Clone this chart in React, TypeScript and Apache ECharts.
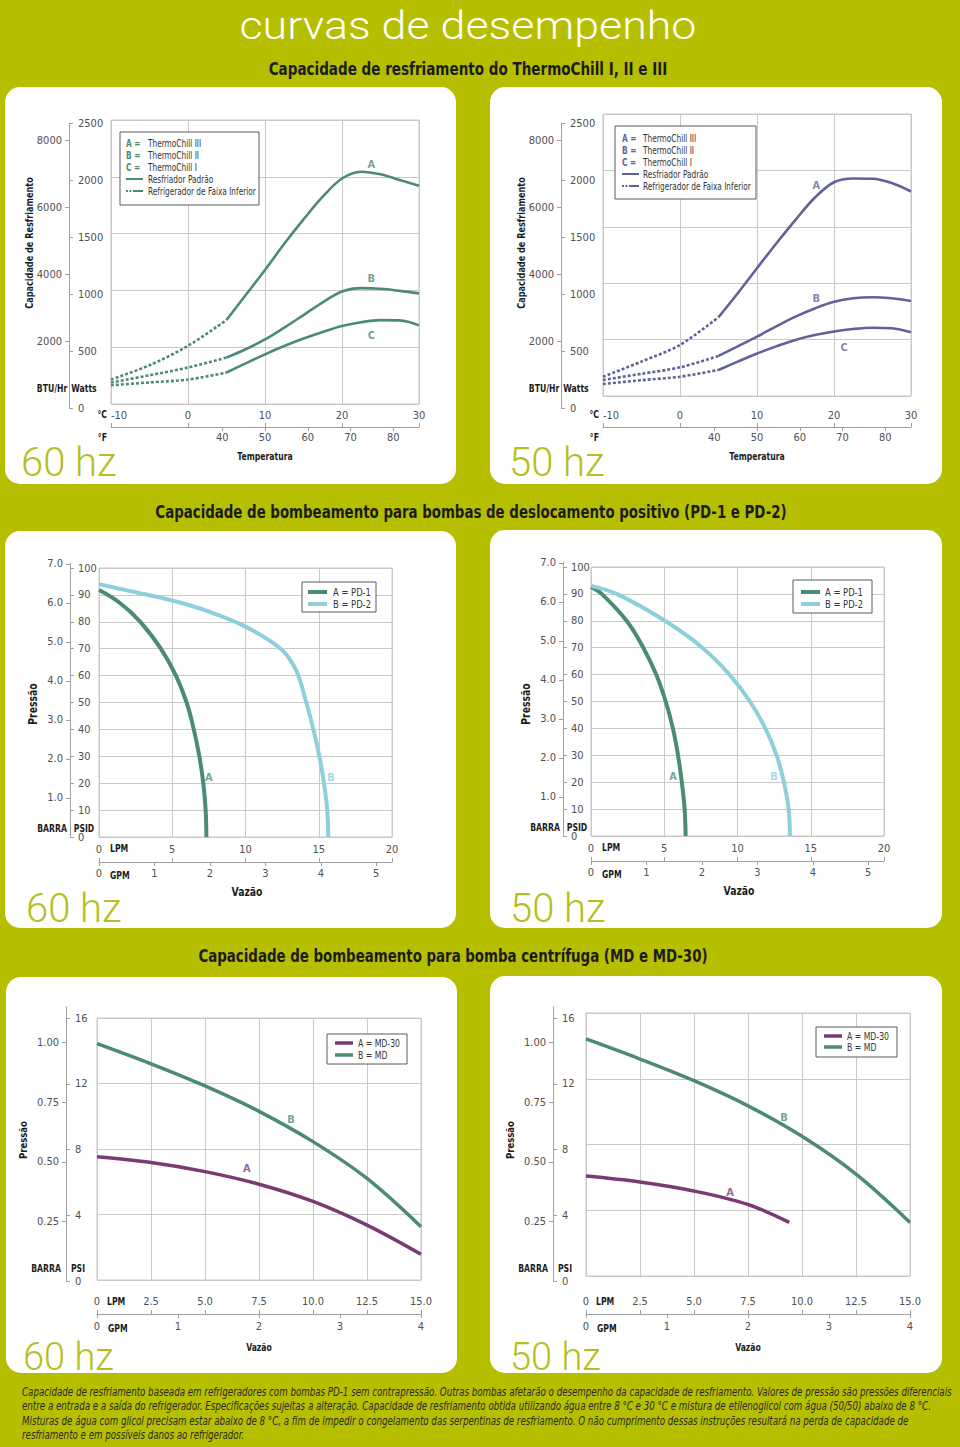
import React, { useEffect, useRef } from "react";
import * as echarts from "echarts";

// ================= DATA =================
// tick labels
const tempTicksC = [-10, 0, 10, 20, 30];
const tempTicksF = [40, 50, 60, 70, 80];
const wattTicks = [0, 500, 1000, 1500, 2000, 2500];
const btuTicks = [2000, 4000, 6000, 8000];
const psidTicks = [0, 10, 20, 30, 40, 50, 60, 70, 80, 90, 100];
const barTicksPD = [1, 2, 3, 4, 5, 6, 7];
const lpmTicksPD = [0, 5, 10, 15, 20];
const gpmTicksPD = [0, 1, 2, 3, 4, 5];
const psiTicksMD = [0, 4, 8, 12, 16];
const barTicksMD = [0.25, 0.5, 0.75, 1.0];
const lpmTicksMD = [0, 2.5, 5, 7.5, 10, 12.5, 15];
const gpmTicksMD = [0, 1, 2, 3, 4];

// Cooling capacity (W) vs temperature (°C) — 60 Hz
const cool60A_low = [[-10, 215], [-5, 341], [0, 512], [5, 739]];
const cool60A = [[5, 739], [7.5, 960], [10, 1180], [12.5, 1410], [15, 1625], [17.5, 1825], [20, 1985], [22.5, 2045], [25, 2022], [27.5, 1972], [30, 1921]];
const cool60B_low = [[-10, 189], [-5, 253], [0, 321], [5, 409]];
const cool60B = [[5, 409], [7.5, 482], [10, 568], [12.5, 672], [15, 783], [17.5, 895], [20, 990], [22.5, 1020], [25, 1014], [27.5, 996], [30, 974]];
const cool60C_low = [[-10, 165], [-5, 190], [0, 215], [5, 277]];
const cool60C = [[5, 277], [7.5, 358], [10, 437], [12.5, 510], [15, 576], [17.5, 634], [20, 686], [22.5, 720], [25, 738], [27.5, 736], [30, 692]];
const cool60Labels: [string, number, number][] = [["A", 23.8, 2106], ["B", 23.8, 1109], ["C", 23.8, 606]];

// Cooling capacity (W) vs temperature (°C) — 50 Hz
const cool50A_low = [[-10, 171], [-5, 305], [0, 453], [5, 698]];
const cool50A = [[5, 698], [7.5, 911], [10, 1133], [12.5, 1352], [15, 1562], [17.5, 1758], [20, 1895], [22.5, 1928], [25, 1926], [27.5, 1888], [30, 1813]];
const cool50B_low = [[-10, 142], [-5, 197], [0, 254], [5, 355]];
const cool50B = [[5, 355], [7.5, 440], [10, 526], [12.5, 618], [15, 704], [17.5, 776], [20, 835], [22.5, 867], [25, 876], [27.5, 867], [30, 843]];
const cool50C_low = [[-10, 106], [-5, 140], [0, 171], [5, 231]];
const cool50C = [[5, 231], [7.5, 305], [10, 377], [12.5, 440], [15, 497], [17.5, 540], [20, 572], [22.5, 594], [25, 605], [27.5, 600], [30, 565]];
const cool50Labels: [string, number, number][] = [["A", 17.7, 1864], ["B", 17.7, 861], ["C", 21.3, 426]];

// PD pumps: pressure (PSID) vs flow (LPM)
const pd60A = [[0, 91.8], [1.43, 87], [2.82, 80], [4.22, 70], [5.25, 60], [5.98, 50], [6.47, 40], [6.85, 30], [7.12, 20], [7.28, 10], [7.33, 0]];
const pd60B = [[0, 94], [2.3, 91.2], [5, 87.9], [7.5, 83.8], [10, 78.2], [12.4, 70], [13.45, 62], [14.15, 50], [14.63, 40], [15.04, 30], [15.36, 20], [15.58, 10], [15.65, 0]];
const pd60Labels: [string, number, number][] = [["A", 7.5, 22.3], ["B", 15.84, 22.3]];
const pd50A = [[0, 92.7], [0.73, 90], [2.43, 80], [3.57, 70], [4.45, 60], [5.1, 50], [5.59, 40], [5.94, 30], [6.2, 20], [6.39, 10], [6.46, 0]];
const pd50B = [[0, 93], [1.75, 90], [5.05, 80], [7.6, 70], [9.45, 60], [10.85, 50], [11.9, 40], [12.67, 30], [13.17, 20], [13.49, 10], [13.58, 0]];
const pd50Labels: [string, number, number][] = [["A", 5.6, 22.3], ["B", 12.49, 22.3]];

// MD pumps: pressure (PSI) vs flow (LPM)
const md60A = [[0, 7.52], [2.5, 7.17], [5, 6.62], [7.5, 5.85], [10, 4.8], [12.5, 3.35], [15, 1.57]];
const md60B = [[0, 14.43], [2.5, 13.2], [5, 11.85], [7.5, 10.3], [10, 8.45], [12.5, 6.2], [15, 3.25]];
const md60Labels: [string, number, number][] = [["A", 6.94, 6.78], ["B", 8.98, 9.83]];
const md50A = [[0, 6.08], [2.5, 5.72], [5, 5.17], [7.5, 4.35], [9.41, 3.26]];
const md50B = [[0, 14.42], [2.5, 13.2], [5, 11.88], [7.5, 10.35], [10, 8.5], [12.5, 6.2], [15, 3.26]];
const md50Labels: [string, number, number][] = [["A", 6.67, 5.11], ["B", 9.17, 9.67]];

// texts
const pageTitle = "curvas de desempenho";
const section1Title = "Capacidade de resfriamento do ThermoChill I, II e III";
const section2Title = "Capacidade de bombeamento para bombas de deslocamento positivo (PD-1 e PD-2)";
const section3Title = "Capacidade de bombeamento para bomba centrífuga (MD e MD-30)";
const coolLegendKeys = ["A =", "B =", "C ="];
const coolLegendModels = ["ThermoChill III", "ThermoChill II", "ThermoChill I"];
const coolLegendStyles = ["Resfriador Padrão", "Refrigerador de Faixa Inferior"];
const pdLegend = ["A = PD-1", "B = PD-2"];
const mdLegend = ["A = MD-30", "B = MD"];
const footerLines = [
  "Capacidade de resfriamento baseada em refrigeradores com bombas PD-1 sem contrapressão. Outras bombas afetarão o desempenho da capacidade de resfriamento. Valores de pressão são pressões diferenciais",
  "entre a entrada e a saída do refrigerador. Especificações sujeitas a alteração. Capacidade de resfriamento obtida utilizando água entre 8 °C e 30 °C e mistura de etilenoglicol com água (50/50) abaixo de 8 °C.",
  "Misturas de água com glicol precisam estar abaixo de 8 °C, a fim de impedir o congelamento das serpentinas de resfriamento. O não cumprimento dessas instruções resultará na perda de capacidade de",
  "resfriamento e em possíveis danos ao refrigerador.",
];

// ================= STYLE =================
const BG = "#b6be00";
const GRID_C = "#c9c9c9";
const AXIS_C = "#a0a0a0";
const TICK_TEXT = "#505050";
const DARK = "#1c1c1c";
const GREEN = "#4c8b73";
const PURPLE_BLUE = "#61629b";
const LIGHT_BLUE = "#8dd0dc";
const MAGENTA = "#7c3a73";
const HZ_C = "#b5be1e";
const COND = "'Liberation Sans Narrow','DejaVu Sans Condensed','Roboto Condensed','Liberation Sans',Arial,sans-serif";
const LIGHTF = "Roboto,'Open Sans','Liberation Sans',Arial,sans-serif";

const LABEL = { color: TICK_TEXT, fontSize: 11, fontFamily: COND };
const plain = (v: number) => String(v);

function measure(text: string, font: string): number {
  const c = document.createElement("canvas").getContext("2d");
  if (!c) return 1;
  c.font = font;
  return c.measureText(text).width || 1;
}

function buildOption() {
  const grid: any[] = [];
  const xAxis: any[] = [];
  const yAxis: any[] = [];
  const series: any[] = [];
  const graphic: any[] = [];

  const fontStr = (o: any) =>
    `${o.italic ? "italic" : "normal"} ${o.weight || "normal"} ${o.size || 11}px ${o.family || COND}`;
  const fit = (t: string, o: any, width: number) => width / measure(t, fontStr(o));

  const text = (t: string, x: number, y: number, o: any = {}) => {
    let scaleX = o.scaleX || 1;
    if (o.fitWidth) scaleX = fit(t, o, o.fitWidth);
    const style: any = {
      text: t,
      fill: o.color || DARK,
      fontSize: o.size || 11,
      fontWeight: o.weight || "normal",
      fontStyle: o.italic ? "italic" : "normal",
      fontFamily: o.family || COND,
      textAlign: o.align || "center",
      textVerticalAlign: o.valign || "middle",
      align: o.align || "center",
      verticalAlign: o.valign || "middle",
    };
    if (o.lineHeight) style.lineHeight = o.lineHeight;
    graphic.push({
      type: "text",
      x,
      y,
      z: 100,
      rotation: o.rotation || 0,
      scaleX,
      silent: true,
      style,
    });
  };
  const line = (x1: number, y1: number, x2: number, y2: number, color: string, width: number, dash?: number[]) => {
    graphic.push({
      type: "line",
      silent: true,
      z: 100,
      shape: { x1, y1, x2, y2 },
      style: { stroke: color, lineWidth: width, lineDash: dash || null },
    });
  };
  const rect = (x: number, y: number, w: number, h: number) => {
    graphic.push({
      type: "rect",
      silent: true,
      z: 99,
      shape: { x, y, width: w, height: h },
      style: { fill: "#ffffff", stroke: "#5a5a5a", lineWidth: 1 },
    });
  };
  const unit = (t: string, x: number, y: number, o: any = {}) =>
    text(t, x, y, { size: 10, weight: "bold", scaleX: 0.86, ...o });
  const hzText = (t: string, x: number, y: number, size = 40) =>
    text(t, x, y, { size, weight: 300, family: LIGHTF, color: HZ_C, align: "left", lineHeight: 28 });

  // ---- side axis pair (left label axis + right label axis on one vertical line)
  const sideAxes = (p: any) => {
    const gi = grid.push({ left: p.left, top: p.top, width: 1, height: p.height, show: false }) - 1;
    xAxis.push({ gridIndex: gi, type: "value", show: false, min: 0, max: 1 });
    yAxis.push({
      gridIndex: gi, type: "value", position: "left", min: 0, max: p.rightMax,
      axisLine: { show: true, onZero: false, lineStyle: { color: AXIS_C } },
      axisTick: { show: true, inside: true, length: 4, customValues: p.rightTicks, lineStyle: { color: AXIS_C } },
      axisLabel: { show: true, inside: true, margin: p.rightMargin || 8, customValues: p.rightTicks, formatter: p.rightFmt || plain, ...LABEL },
      splitLine: { show: false },
    });
    yAxis.push({
      gridIndex: gi, type: "value", position: "left", min: 0, max: p.leftMax,
      axisLine: { show: false, onZero: false },
      axisTick: { show: true, length: 4, customValues: p.leftTicks, lineStyle: { color: AXIS_C } },
      axisLabel: { show: true, margin: p.leftMargin || 7, customValues: p.leftTicks, formatter: p.leftFmt || plain, ...LABEL },
      splitLine: { show: false },
    });
  };

  // ---- plot grid with two bottom scales
  const plotGrid = (p: any) => {
    const gi = grid.push({
      left: p.left, top: p.top, width: p.width, height: p.height,
      show: true, borderColor: GRID_C, borderWidth: 1, backgroundColor: "rgba(0,0,0,0)",
    }) - 1;
    const xi = xAxis.push({
      gridIndex: gi, type: "value", position: "bottom", offset: p.offset,
      min: p.xMin, max: p.xMax, interval: p.xInterval,
      axisLine: { show: true, onZero: false, lineStyle: { color: AXIS_C } },
      axisTick: { show: true, inside: true, length: 4, lineStyle: { color: AXIS_C } },
      axisLabel: { show: true, inside: true, margin: p.m1, formatter: p.xFmt || plain, alignMinLabel: p.alignMin, ...LABEL },
      splitLine: { show: true, lineStyle: { color: GRID_C, width: 1 } },
    }) - 1;
    xAxis.push({
      gridIndex: gi, type: "value", position: "bottom", offset: p.offset,
      min: p.x2Min, max: p.x2Max,
      axisLine: { show: false, onZero: false },
      axisTick: { show: true, length: 4, customValues: p.x2Ticks, lineStyle: { color: AXIS_C } },
      axisLabel: { show: true, margin: p.m2, customValues: p.x2Ticks, formatter: plain, ...LABEL },
      splitLine: { show: false },
    });
    const yi = yAxis.push({
      gridIndex: gi, type: "value", min: p.yMin, max: p.yMax, interval: p.yInterval,
      axisLine: { show: false, onZero: false }, axisTick: { show: false }, axisLabel: { show: false },
      splitLine: { show: true, lineStyle: { color: GRID_C, width: 1 } },
    }) - 1;
    return { xi, yi };
  };

  const curve = (ax: any, data: number[][], color: string, width: number, dashed = false, smooth: any = 0.4) => {
    series.push({
      type: "line", xAxisIndex: ax.xi, yAxisIndex: ax.yi, data, smooth,
      symbol: "none", silent: true, z: 3,
      lineStyle: { color, width, type: dashed ? [3, 2] : "solid", cap: "butt" },
    });
  };
  const curveLabels = (ax: any, items: [string, number, number][], color: string) => {
    items.forEach(([n, x, y]) => {
      series.push({
        type: "scatter", xAxisIndex: ax.xi, yAxisIndex: ax.yi, symbolSize: 1, silent: true, z: 4,
        itemStyle: { color: "rgba(0,0,0,0)" },
        data: [{ value: [x, y], name: n }],
        label: { show: true, position: "inside", formatter: "{b}", color, fontSize: 11, fontWeight: "bold", fontFamily: COND },
      });
    });
  };

  // ================= PAGE TEXTS =================
  text(pageTitle, 468, 26, { size: 38, weight: 300, family: LIGHTF, color: "#ffffff", fitWidth: 457 });
  text(section1Title, 468, 69, { size: 18, weight: "bold", fitWidth: 399 });
  text(section2Title, 471, 512, { size: 18, weight: "bold", fitWidth: 631 });
  text(section3Title, 453, 956, { size: 18, weight: "bold", fitWidth: 509 });
  const footO = { size: 11.5, italic: true };
  const footScale = fit(footerLines[0], footO, 931);
  footerLines.forEach((l, i) =>
    text(l, 22, 1392 + i * 14.4, { ...footO, color: "#2a2a2a", align: "left", scaleX: footScale })
  );

  // ================= COOLING PANELS =================
  const cooling = (c: any) => {
    const ax = plotGrid({
      left: c.left, top: c.top, width: 308, height: c.height, offset: c.offset,
      xMin: -10, xMax: 30, xInterval: 10, m1: 6, alignMin: "left",
      x2Min: 14, x2Max: 86, x2Ticks: tempTicksF, m2: 5,
      yMin: 0, yMax: 2500, yInterval: 500,
    });
    sideAxes({
      left: c.axisX, top: 123, height: 285,
      rightMax: 2500, rightTicks: wattTicks, rightMargin: 9,
      leftMax: 2500 * 3.412, leftTicks: btuTicks, leftMargin: 7,
    });
    c.curves.forEach((cv: any) => {
      curve(ax, cv[0], c.color, 2.6, true, 0.3);
      curve(ax, cv[1], c.color, 2.6, false, 0.35);
    });
    curveLabels(ax, c.labels, c.color);
    // legend
    const L = c.legend;
    const lo = { size: 10.5 };
    const ls = fit(coolLegendStyles[1], lo, 108);
    rect(L.x, L.y, L.w, L.h);
    coolLegendKeys.forEach((k, i) => {
      text(k, L.keyX, L.rows[i], { size: 10.5, weight: "bold", color: c.color, align: "left", scaleX: ls });
      text(coolLegendModels[i], L.textX, L.rows[i], { ...lo, color: "#333", align: "left", scaleX: ls });
    });
    line(L.keyX, L.rows[3], L.keyX + 17, L.rows[3], c.color, 2);
    text(coolLegendStyles[0], L.textX, L.rows[3], { ...lo, color: "#333", align: "left", scaleX: ls });
    line(L.keyX, L.rows[4], L.keyX + 8, L.rows[4], c.color, 2, [2, 1.5]);
    line(L.keyX + 8, L.rows[4], L.keyX + 17, L.rows[4], c.color, 2);
    text(coolLegendStyles[1], L.textX, L.rows[4], { ...lo, color: "#333", align: "left", scaleX: ls });
    // unit labels
    unit("BTU/Hr", c.axisX - 17, 388);
    unit("Watts", c.axisX + 15, 388);
    unit("°C", c.left - 4, 414, { align: "right" });
    unit("°F", c.left - 4, 437, { align: "right" });
    unit("Temperatura", c.left + 154, 456);
    unit("Capacidade de Resfriamento", c.axisX - 40, 243, { size: 10.5, rotation: Math.PI / 2 });
    hzText(c.hz, c.hzX, 462);
  };

  cooling({
    left: 111, top: 120, height: 284, offset: 23, axisX: 69, color: GREEN, hz: "60 hz", hzX: 21,
    curves: [[cool60A_low, cool60A], [cool60B_low, cool60B], [cool60C_low, cool60C]],
    labels: cool60Labels,
    legend: { x: 120, y: 132, w: 139, h: 73, rows: [143, 155, 167, 179, 191], keyX: 126, textX: 148 },
  });
  cooling({
    left: 603, top: 114, height: 282, offset: 31, axisX: 561, color: PURPLE_BLUE, hz: "50 hz", hzX: 509,
    curves: [[cool50A_low, cool50A], [cool50B_low, cool50B], [cool50C_low, cool50C]],
    labels: cool50Labels,
    legend: { x: 615, y: 126, w: 141, h: 73, rows: [138, 150, 162, 174, 186], keyX: 622, textX: 643 },
  });

  // ================= PD PANELS =================
  const pd = (c: any) => {
    const ax = plotGrid({
      left: c.left, top: c.top, width: 293, height: 269, offset: 25,
      xMin: 0, xMax: 20, xInterval: 5, m1: 7,
      x2Min: 0, x2Max: 20 / 3.785, x2Ticks: gpmTicksPD, m2: 6,
      yMin: 0, yMax: 100, yInterval: 10,
    });
    const psiMax = 274 / 2.69;
    sideAxes({
      left: c.axisX, top: c.top + 269 - 274, height: 274,
      rightMax: psiMax, rightTicks: psidTicks, rightMargin: 8,
      leftMax: psiMax / 14.5038, leftTicks: barTicksPD, leftFmt: (v: number) => v.toFixed(1), leftMargin: 7,
    });
    curve(ax, c.a, GREEN, 4, false, 0.4);
    curve(ax, c.b, LIGHT_BLUE, 4, false, 0.35);
    curveLabels(ax, [c.labels[0]], GREEN);
    curveLabels(ax, [c.labels[1]], LIGHT_BLUE);
    const L = c.legend;
    const lo = { size: 11 };
    const ls = fit(pdLegend[1], lo, 38);
    rect(L.x, L.y, L.w, L.h);
    line(L.lx, L.rows[0], L.lx + 19, L.rows[0], GREEN, 4);
    line(L.lx, L.rows[1], L.lx + 19, L.rows[1], LIGHT_BLUE, 4);
    text(pdLegend[0], L.tx, L.rows[0], { ...lo, color: "#333", align: "left", scaleX: ls });
    text(pdLegend[1], L.tx, L.rows[1], { ...lo, color: "#333", align: "left", scaleX: ls });
    const bottom = c.top + 269;
    unit("BARRA", c.axisX - 18, bottom - 9);
    unit("PSID", c.axisX + 14, bottom - 9);
    unit("LPM", c.left + 11, bottom + 11, { align: "left" });
    unit("GPM", c.left + 11, bottom + 38, { align: "left" });
    unit("Vazão", c.left + 148, bottom + 55, { size: 12 });
    unit("Pressão", c.axisX - 37, 704, { size: 12, rotation: Math.PI / 2 });
    hzText(c.hz, c.hzX, 908);
  };
  pd({
    left: 99, top: 568, axisX: 70, a: pd60A, b: pd60B, labels: pd60Labels, hz: "60 hz", hzX: 26,
    legend: { x: 302, y: 582, w: 74, h: 30, rows: [592, 604], lx: 308, tx: 333 },
  });
  pd({
    left: 591, top: 567, axisX: 563, a: pd50A, b: pd50B, labels: pd50Labels, hz: "50 hz", hzX: 510,
    legend: { x: 793, y: 580, w: 79, h: 33, rows: [592, 604], lx: 801, tx: 825 },
  });

  // ================= MD PANELS =================
  const md = (c: any) => {
    const ax = plotGrid({
      left: c.left, top: c.top, width: 324, height: c.height, offset: c.offset,
      xMin: 0, xMax: 15, xInterval: 2.5, m1: 7, xFmt: (v: number) => (v === 0 ? "0" : v.toFixed(1)),
      x2Min: 0, x2Max: 4, x2Ticks: gpmTicksMD, m2: c.m2,
      yMin: 0, yMax: 16, yInterval: 4,
    });
    const pxPerPsi = 263 / 16;
    const psiMax = 274 / pxPerPsi;
    sideAxes({
      left: c.axisX, top: 1007, height: 274,
      rightMax: psiMax, rightTicks: psiTicksMD, rightMargin: 9,
      leftMax: psiMax / 14.5038, leftTicks: barTicksMD, leftFmt: (v: number) => v.toFixed(2), leftMargin: 7,
    });
    curve(ax, c.b, GREEN, 3.5, false, 0.35);
    curve(ax, c.a, MAGENTA, 3.5, false, 0.35);
    curveLabels(ax, [c.labels[0]], MAGENTA);
    curveLabels(ax, [c.labels[1]], GREEN);
    const L = c.legend;
    const lo = { size: 10.5 };
    const ls = fit(mdLegend[0], lo, 42);
    rect(L.x, L.y, L.w, L.h);
    line(L.lx, L.rows[0], L.lx + 18, L.rows[0], MAGENTA, 3.5);
    line(L.lx, L.rows[1], L.lx + 18, L.rows[1], GREEN, 3.5);
    text(mdLegend[0], L.tx, L.rows[0], { ...lo, color: "#333", align: "left", scaleX: ls });
    text(mdLegend[1], L.tx, L.rows[1], { ...lo, color: "#333", align: "left", scaleX: ls });
    unit("BARRA", c.axisX - 20, 1268);
    unit("PSI", c.axisX + 12, 1268);
    unit("LPM", c.left + 10, c.lpmY, { align: "left" });
    unit("GPM", c.left + 11, c.gpmY, { align: "left" });
    unit("Vazão", c.left + 162, 1347);
    unit("Pressão", c.axisX - 43, 1140, { size: 11, rotation: Math.PI / 2 });
    hzText(c.hz, c.hzX, c.hzY, 38);
  };
  md({
    left: 97, top: 1018, height: 262, offset: 34, m2: 7, axisX: 66, a: md60A, b: md60B, labels: md60Labels,
    lpmY: 1301, gpmY: 1328, hz: "60 hz", hzX: 23, hzY: 1357,
    legend: { x: 327, y: 1034, w: 80, h: 30, rows: [1043, 1055], lx: 335, tx: 358 },
  });
  md({
    left: 586, top: 1013, height: 263, offset: 38, m2: 7, axisX: 553, a: md50A, b: md50B, labels: md50Labels,
    lpmY: 1301, gpmY: 1328, hz: "50 hz", hzX: 510, hzY: 1357,
    legend: { x: 816, y: 1027, w: 81, h: 30, rows: [1036, 1047], lx: 824, tx: 847 },
  });

  return {
    animation: false,
    backgroundColor: "rgba(0,0,0,0)",
    grid,
    xAxis,
    yAxis,
    series,
    graphic: { elements: graphic },
  };
}

const panels = [
  { x: 5, y: 87, w: 451, h: 397 },
  { x: 490, y: 87, w: 452, h: 397 },
  { x: 5, y: 531, w: 451, h: 397 },
  { x: 490, y: 530, w: 452, h: 398 },
  { x: 6, y: 977, w: 451, h: 396 },
  { x: 490, y: 976, w: 452, h: 397 },
];

export default function App() {
  const ref = useRef<HTMLDivElement>(null);
  useEffect(() => {
    if (!ref.current) return;
    const chart = echarts.init(ref.current, undefined, { renderer: "svg", width: 960, height: 1447 });
    chart.setOption(buildOption() as any);
    return () => chart.dispose();
  }, []);
  return (
    <div style={{ position: "absolute", left: 0, top: 0, width: 960, height: 1447, background: BG, overflow: "hidden" }}>
      {panels.map((p, i) => (
        <div
          key={i}
          style={{ position: "absolute", left: p.x, top: p.y, width: p.w, height: p.h, background: "#ffffff", borderRadius: 15 }}
        />
      ))}
      <div ref={ref} style={{ position: "absolute", left: 0, top: 0, width: 960, height: 1447 }} />
    </div>
  );
}
